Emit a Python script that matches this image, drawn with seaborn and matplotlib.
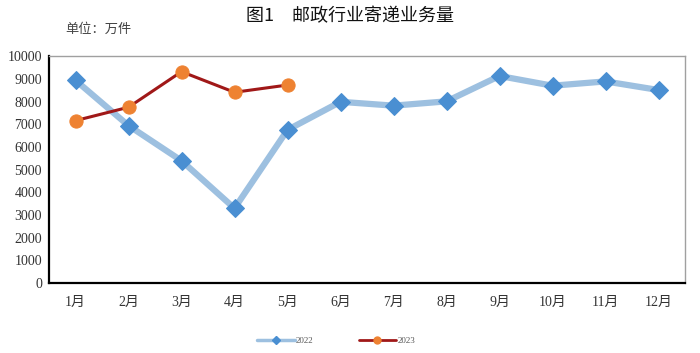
import matplotlib
matplotlib.use("Agg")
import matplotlib.pyplot as plt
from matplotlib.lines import Line2D
import seaborn as sns
import pandas as pd

months = ["1月", "2月", "3月", "4月", "5月", "6月", "7月", "8月", "9月", "10月", "11月", "12月"]
v2022 = [8950, 6950, 5400, 3300, 6760, 8000, 7830, 8020, 9140, 8710, 8900, 8520]
v2023 = [7170, 7760, 9330, 8420, 8740]
yticks = [0, 1000, 2000, 3000, 4000, 5000, 6000, 7000, 8000, 9000, 10000]

sns.set_style("white")
plt.rcParams["font.family"] = ["Liberation Serif", "Noto Sans CJK SC", "DejaVu Sans"]

fig = plt.figure(figsize=(7.0, 3.53), dpi=100)
ax = fig.add_axes([0.07, 0.198, 0.9086, 0.642])

c22_line = "#9dc0e0"
c22_mark = "#4a8fd2"
c23_line = "#a01818"
c23_mark = "#ee8232"

df22 = pd.DataFrame({"month": months, "value": v2022})
df23 = pd.DataFrame({"month": months[:len(v2023)], "value": v2023})

sns.lineplot(data=df22, x="month", y="value", ax=ax, sort=False, color=c22_line,
             linewidth=4.5, marker="D", markersize=9, markerfacecolor=c22_mark,
             markeredgecolor=c22_mark, zorder=2)
sns.lineplot(data=df23, x="month", y="value", ax=ax, sort=False, color=c23_line,
             linewidth=2.2, marker="o", markersize=9.5, markerfacecolor=c23_mark,
             markeredgecolor=c23_mark, zorder=3)

ax.set_xlim(-0.5, 11.5)
ax.set_ylim(0, 10000)
ax.set_yticks(yticks)
ax.set_yticklabels([str(t) for t in yticks])
ax.set_xlabel("")
ax.set_ylabel("")

ax.set_xticks(range(12))
ax.set_xticklabels(months)
ax.set_xticks([i - 0.5 for i in range(13)], minor=True)
ax.tick_params(axis="x", which="major", length=0, pad=9, labelsize=10, labelcolor="#333333")
ax.tick_params(axis="x", which="minor", length=5, width=1.3, color="black", direction="out")
ax.tick_params(axis="y", which="major", length=4, width=1.3, color="black", direction="out",
               labelsize=10, labelcolor="#333333", pad=1)
for lab in ax.get_xticklabels() + ax.get_yticklabels():
    lab.set_family(["Liberation Serif", "Noto Sans CJK SC"])

for side in ["left", "bottom"]:
    ax.spines[side].set_color("black")
    ax.spines[side].set_linewidth(1.6)
for side in ["top", "right"]:
    ax.spines[side].set_color("#a0a0a0")
    ax.spines[side].set_linewidth(1.0)
    ax.spines[side].set_visible(True)

fig.text(0.5, 0.955, "图1　邮政行业寄递业务量", ha="center", va="center", fontsize=13,
         fontweight="normal", family=["Noto Sans CJK SC", "DejaVu Sans"], color="#111111")
fig.text(0.093, 0.918, "单位：万件", ha="left", va="center", fontsize=9.5,
         family=["Noto Sans CJK SC", "DejaVu Sans"], color="#444444")

handles = [
    Line2D([0], [0], color=c22_line, linewidth=2.5, marker="D", markersize=4,
           markerfacecolor=c22_mark, markeredgecolor=c22_mark),
    Line2D([0], [0], color=c23_line, linewidth=2.0, marker="o", markersize=5,
           markerfacecolor=c23_mark, markeredgecolor=c23_mark),
]
fig.legend(handles, ["2022", "2023"], loc="center", bbox_to_anchor=(0.48, 0.034), ncol=2,
           frameon=False, fontsize=6.5, handlelength=4.2, columnspacing=5, handletextpad=0.1,
           labelcolor="#555555")

fig.savefig("out.png", dpi=100)
